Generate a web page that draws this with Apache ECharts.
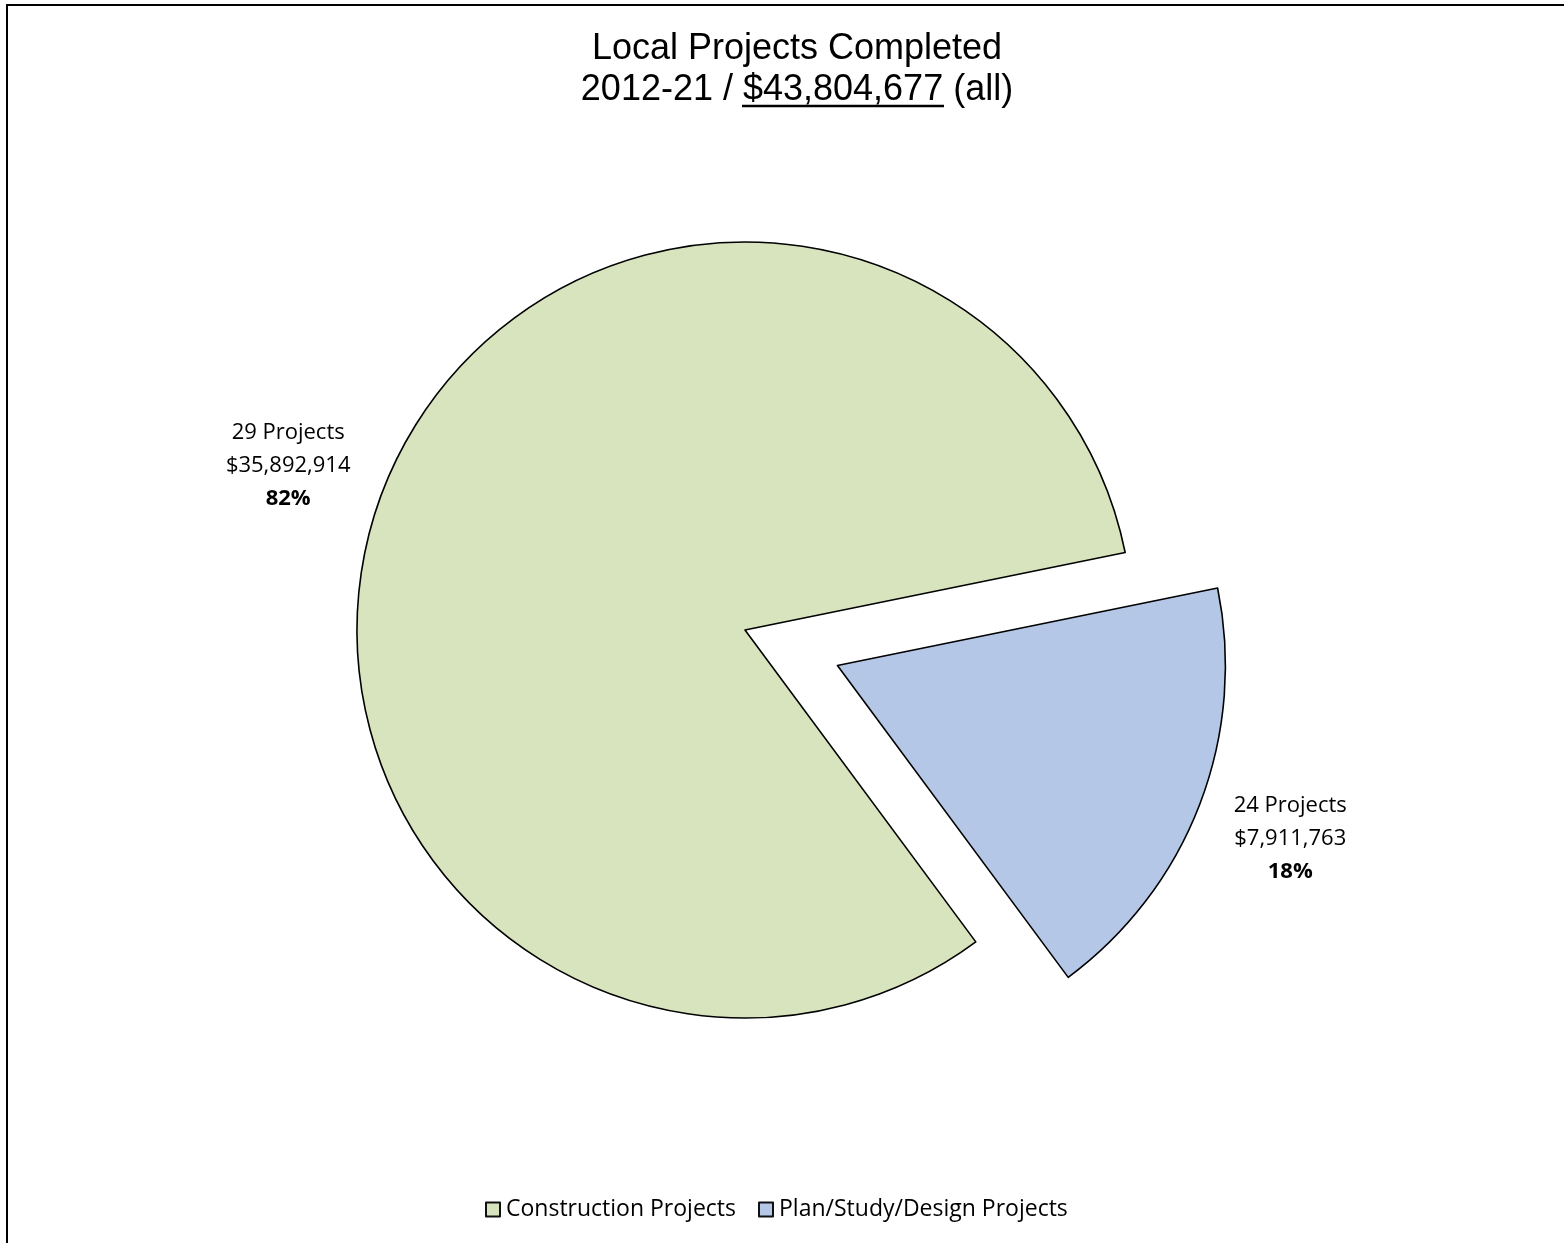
<!DOCTYPE html>
<html>
<head>
<meta charset="utf-8">
<script src="https://cdn.jsdelivr.net/npm/echarts@6/dist/echarts.min.js"></script>
<style>
html,body{margin:0;padding:0;background:#fff;}
#chart{width:1564px;height:1243px;}
</style>
</head>
<body>
<div id="chart"></div>
<script>
const categories = ['Construction Projects', 'Plan/Study/Design Projects'];
const amounts = [35892914, 7911763];
const projectCounts = [29, 24];
const colors = ['#D7E4BD', '#B4C7E7'];
const titleLine1 = 'Local Projects Completed';
const titleYears = '2012-21 / ';
const titleTotal = '$43,804,677';
const titleTail = ' (all)';

const chart = echarts.init(document.getElementById('chart'), null, {renderer: 'canvas'});
const fmt = v => '$' + v.toLocaleString('en-US');

const labelPads = [[18, 8, 0, 0], [0, 0, 0, 0]];

const option = {
  backgroundColor: '#ffffff',
  animation: false,
  title: {
    text: titleLine1 + '\n' + titleYears + titleTotal + titleTail,
    left: 792,
    textAlign: 'center',
    top: 24,
    textStyle: {
      fontFamily: 'Liberation Sans, Arial, sans-serif',
      fontSize: 36,
      fontWeight: 'normal',
      color: '#000',
      lineHeight: 41
    }
  },
  legend: {
    data: categories,
    left: 480,
    top: 1193,
    icon: 'rect',
    itemWidth: 14,
    itemHeight: 14,
    itemGap: 22,
    selectedMode: false,
    itemStyle: { borderColor: '#111', borderWidth: 2 },
    textStyle: {
      fontFamily: 'Open Sans, sans-serif',
      fontSize: 23,
      color: '#000',
      padding: [0, 0, 0, 1]
    }
  },
  graphic: [
    {
      type: 'rect',
      shape: { x: 7, y: 5, width: 1700, height: 1400 },
      style: { fill: null, stroke: '#000', lineWidth: 2 },
      silent: true
    },
    {
      type: 'line',
      shape: { x1: 742, y1: 106, x2: 944, y2: 106 },
      style: { stroke: '#000', lineWidth: 2.5 },
      silent: true
    }
  ],
  series: [{
    type: 'pie',
    center: [745, 630],
    radius: 388,
    startAngle: 306.5,
    clockwise: true,
    avoidLabelOverlap: false,
    selectedMode: 'single',
    selectedOffset: 99,
    percentPrecision: 0,
    itemStyle: { borderColor: '#000', borderWidth: 1.6 },
    emphasis: { disabled: true },
    label: {
      show: true,
      position: 'outside',
      distanceToLabelLine: 0,
      fontFamily: 'Open Sans, sans-serif',
      fontSize: 22,
      color: '#000',
      lineHeight: 33,
      align: 'center',
      formatter: function (p) {
        return projectCounts[p.dataIndex] + ' Projects\n' + fmt(p.value) + '\n{b|' + p.percent + '%}';
      },
      rich: {
        b: { fontFamily: 'Open Sans, sans-serif', fontSize: 22, fontWeight: 'bold', color: '#000', lineHeight: 33 }
      }
    },
    labelLine: { show: false, length: 97, length2: 0 },
    labelLayout: function () {
      return { align: 'center', verticalAlign: 'middle' };
    },
    data: categories.map((c, i) => ({
      name: c,
      value: amounts[i],
      selected: i === 1,
      itemStyle: { color: colors[i] },
      label: { padding: labelPads[i] }
    }))
  }]
};
chart.setOption(option);
</script>
</body>
</html>
